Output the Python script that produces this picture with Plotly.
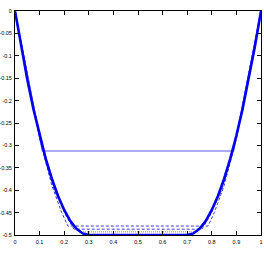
import plotly.graph_objects as go

# Thick solid curve (obstacle solution)
x_thick = [0, 0.025, 0.05, 0.075, 0.1, 0.125, 0.15, 0.175, 0.2, 0.225, 0.25, 0.275, 0.3,
           0.7, 0.725, 0.75, 0.775, 0.8, 0.825, 0.85, 0.875, 0.9, 0.925, 0.95, 0.975, 1.0]
y_thick = [0, -0.080, -0.153, -0.219, -0.278, -0.330, -0.375, -0.413, -0.444, -0.469, -0.486, -0.4965, -0.5,
           -0.5, -0.4965, -0.486, -0.469, -0.444, -0.413, -0.375, -0.330, -0.278, -0.219, -0.153, -0.080, 0]

# Thin solid coarse approximation
x_thin = [0, 0.111, 0.889, 1.0]
y_thin = [0, -0.3125, -0.3125, 0]

# Dashed approximations
x_dashA = [0, 0.1, 0.15, 0.19, 0.215, 0.785, 0.81, 0.85, 0.9, 1.0]
y_dashA = [0, -0.285, -0.39, -0.45, -0.48, -0.48, -0.45, -0.39, -0.285, 0]
x_dashB = [0, 0.1, 0.16, 0.21, 0.24, 0.76, 0.79, 0.84, 0.9, 1.0]
y_dashB = [0, -0.28, -0.40, -0.46, -0.487, -0.487, -0.46, -0.40, -0.28, 0]
x_dot = [0, 0.1, 0.17, 0.22, 0.26, 0.74, 0.78, 0.83, 0.9, 1.0]
y_dot = [0, -0.279, -0.405, -0.465, -0.493, -0.493, -0.465, -0.405, -0.279, 0]

x_ticks = [0, 0.1, 0.2, 0.3, 0.4, 0.5, 0.6, 0.7, 0.8, 0.9, 1.0]
x_labels = ["0", "0.1", "0.2", "0.3", "0.4", "0.5", "0.6", "0.7", "0.8", "0.9", "1"]
y_ticks = [0, -0.05, -0.1, -0.15, -0.2, -0.25, -0.3, -0.35, -0.4, -0.45, -0.5]
y_labels = ["0", "-0.05", "-0.1", "-0.15", "-0.2", "-0.25", "-0.3", "-0.35", "-0.4", "-0.45", "-0.5"]

fig = go.Figure()
fig.add_trace(go.Scatter(x=x_dashA, y=y_dashA, mode="lines",
                         line=dict(color="#3a3ad8", width=1, dash="3px,2px")))
fig.add_trace(go.Scatter(x=x_dashB, y=y_dashB, mode="lines",
                         line=dict(color="#3a3ad8", width=1, dash="3px,2px")))
fig.add_trace(go.Scatter(x=x_dot, y=y_dot, mode="lines",
                         line=dict(color="#7a7aff", width=1, dash="1px,1px")))
fig.add_trace(go.Scatter(x=x_thin, y=y_thin, mode="lines",
                         line=dict(color="#5a5aff", width=1.2)))
fig.add_trace(go.Scatter(x=x_thick, y=y_thick, mode="lines",
                         line=dict(color="#0000ee", width=2.6)))

axis_common = dict(showline=True, linecolor="black", linewidth=1, mirror="allticks",
                   ticks="inside", ticklen=4, tickcolor="black", showgrid=False,
                   zeroline=False, automargin=False,
                   tickfont=dict(family="Liberation Sans", size=5.5, color="black"))

fig.update_layout(
    width=264, height=257,
    margin=dict(l=15, r=3, t=11, b=22),
    paper_bgcolor="white", plot_bgcolor="white",
    showlegend=False,
    xaxis=dict(range=[0, 1], tickvals=x_ticks, ticktext=x_labels, ticklabelstandoff=1, **axis_common),
    yaxis=dict(range=[-0.5, 0], tickvals=y_ticks, ticktext=y_labels, ticklabelstandoff=1, **axis_common),
)
fig.write_html("out.html")
